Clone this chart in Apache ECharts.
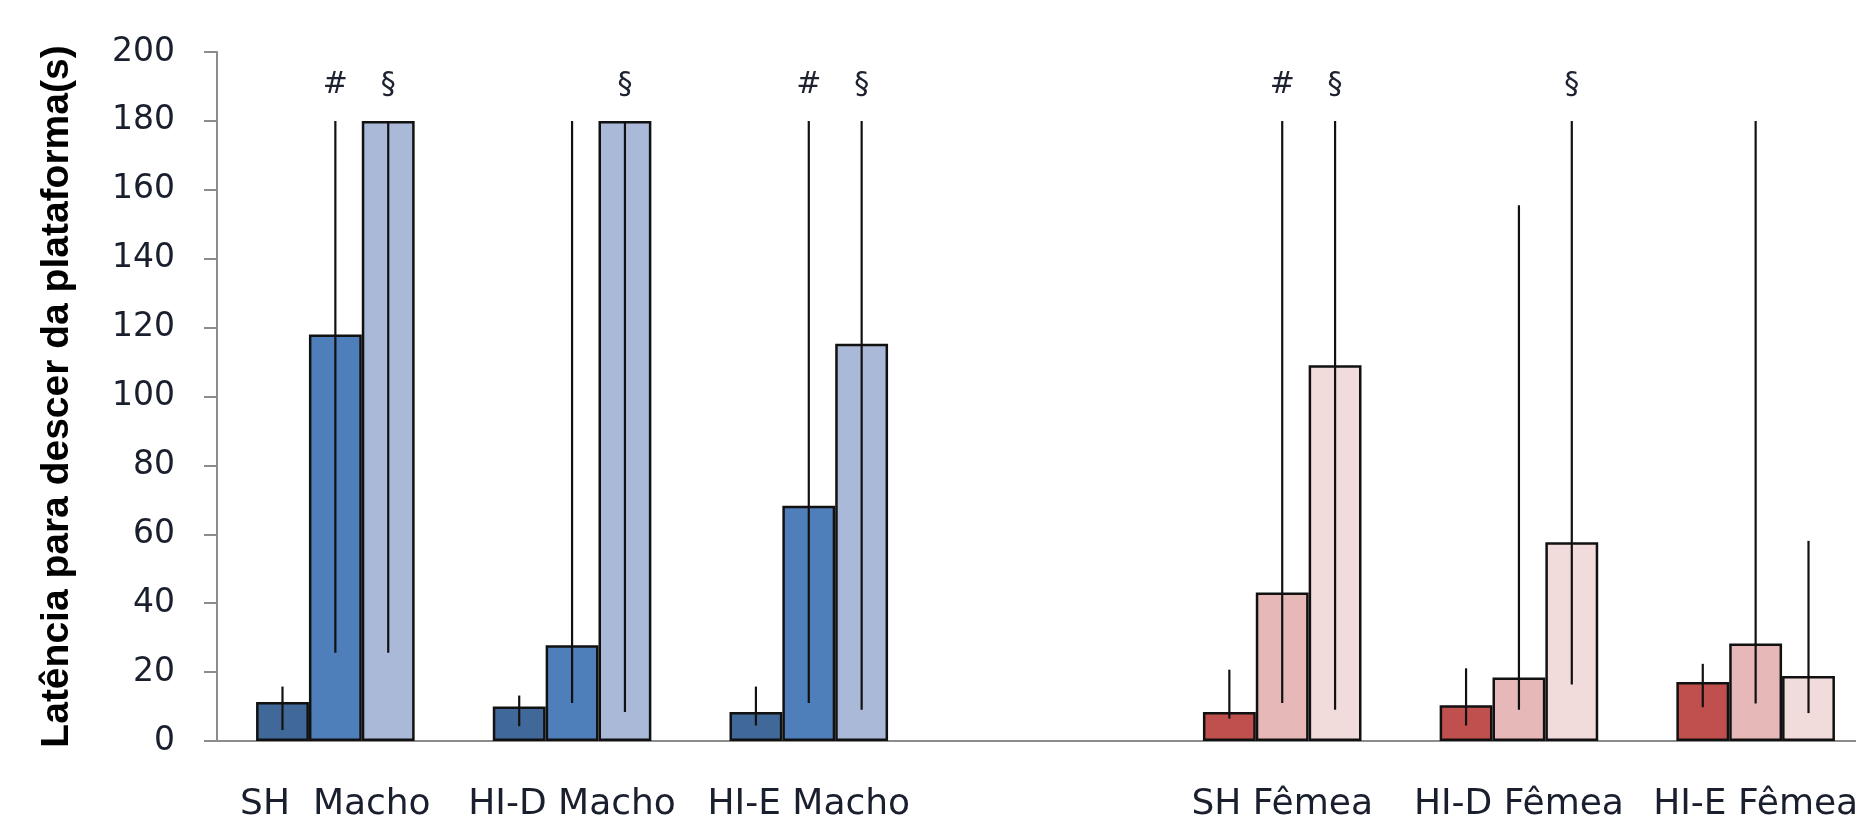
<!DOCTYPE html>
<html>
<head>
<meta charset="utf-8">
<script src="https://cdn.jsdelivr.net/npm/echarts@6/dist/echarts.min.js"></script>
<style>
  html, body { margin: 0; padding: 0; background: #fff; overflow: hidden; }
  #chart { width: 1856px; height: 817px; }
</style>
</head>
<body>
<div id="chart"></div>
<script>
// Groups along the x axis (the blank slot separates males from females)
const categories = ['SH  Macho', 'HI-D Macho', 'HI-E Macho', '', 'SH Fêmea', 'HI-D Fêmea', 'HI-E Fêmea'];
const isFemale = [false, false, false, false, true, true, true];

// Median latency (s) for the three bars of each group, with lower/upper range
const bar1 = [11.3, 10.0, 8.4, null, 8.4, 10.4, 17.1];
const bar1Low = [3.2, 4.3, 4.5, null, 6.5, 4.5, 9.8];
const bar1High = [15.8, 13.2, 15.8, null, 20.7, 21.1, 22.4];

const bar2 = [118, 27.8, 68.3, null, 43.1, 18.4, 28.3];
const bar2Low = [25.6, 11.0, 11.0, null, 11.0, 9.1, 10.9];
const bar2High = [180, 180, 180, null, 180, 155.5, 180];

const bar3 = [180, 180, 115.3, null, 109.1, 57.7, 18.9];
const bar3Low = [25.6, 8.4, 9.1, null, 9.1, 16.4, 8.1];
const bar3High = [180, 180, 180, null, 180, 180, 58.1];

// Significance symbols drawn above the range lines
const sig1 = ['', '', '', '', '', '', ''];
const sig2 = ['#', '', '#', '', '#', '', ''];
const sig3 = ['§', '§', '§', '', '§', '§', ''];

// Y axis ticks
const yTicks = [0, 20, 40, 60, 80, 100, 120, 140, 160, 180, 200];

const maleColors = ['#406898', '#4F7FBB', '#AAB9D7'];
const femaleColors = ['#C0504D', '#E6B8B7', '#F2DCDB'];

const barSets = [
  { values: bar1, low: bar1Low, high: bar1High, sig: sig1 },
  { values: bar2, low: bar2Low, high: bar2High, sig: sig2 },
  { values: bar3, low: bar3Low, high: bar3High, sig: sig3 }
];

const GROUP_FRACTION = 0.67;

const series = [];
barSets.forEach((set, k) => {
  series.push({
    type: 'bar',
    name: 'bar' + (k + 1),
    barWidth: (GROUP_FRACTION * 100 / 3).toFixed(2) + '%',
    barGap: '0%',
    data: set.values.map((v, i) => ({
      value: v,
      itemStyle: {
        color: (isFemale[i] ? femaleColors : maleColors)[k],
        borderColor: '#111',
        borderWidth: 2.5
      }
    })),
    z: 2
  });
});

// Range lines (no caps) and significance marks, centred on each bar
barSets.forEach((set, k) => {
  series.push({
    type: 'custom',
    name: 'range' + (k + 1),
    data: set.low.map((lo, i) => [i, lo, set.high[i]]),
    z: 5,
    renderItem: function (params, api) {
      const idx = api.value(0);
      const lo = api.value(1);
      const hi = api.value(2);
      if (isNaN(lo) || isNaN(hi)) return null;
      const catW = api.size([1, 0])[0];
      const bw = catW * GROUP_FRACTION / 3;
      const pLo = api.coord([idx, lo]);
      const pHi = api.coord([idx, hi]);
      const x = pLo[0] + (k - 1) * bw;
      const children = [{
        type: 'line',
        shape: { x1: x, y1: pLo[1], x2: x, y2: pHi[1] },
        style: { stroke: '#111', lineWidth: 2.2 }
      }];
      const mark = set.sig[idx];
      if (mark) {
        children.push({
          type: 'text',
          style: {
            text: mark,
            x: x,
            y: pHi[1] - 21,
            align: 'center',
            verticalAlign: 'bottom',
            fill: '#1e2230',
            font: '30px "DejaVu Sans"'
          }
        });
      }
      return { type: 'group', children: children };
    }
  });
});

const chart = echarts.init(document.getElementById('chart'));
chart.setOption({
  animation: false,
  backgroundColor: '#fff',
  grid: {
    left: 217, top: 52, width: 1657, height: 689,
    containLabel: false,
    outerBoundsMode: 'none'
  },
  xAxis: {
    type: 'category',
    data: categories,
    axisLine: { lineStyle: { color: '#8c8c8c', width: 2 } },
    axisTick: { show: false },
    axisLabel: {
      interval: 0,
      margin: 46,
      color: '#1a1f2e',
      fontFamily: 'DejaVu Sans',
      fontSize: 36
    }
  },
  yAxis: {
    type: 'value',
    min: yTicks[0],
    max: yTicks[yTicks.length - 1],
    interval: 20,
    name: 'Latência para descer da plataforma(s)',
    nameLocation: 'middle',
    nameGap: 140,
    nameTextStyle: {
      fontFamily: '"Liberation Sans", Arial, sans-serif',
      fontWeight: 'bold',
      fontSize: 39,
      color: '#000'
    },
    splitLine: { show: false },
    axisLine: { show: true, lineStyle: { color: '#8c8c8c', width: 2 } },
    axisTick: { show: true, length: 13, lineStyle: { color: '#8c8c8c', width: 2 } },
    axisLabel: {
      margin: 42,
      color: '#1a1f2e',
      fontFamily: 'DejaVu Sans',
      fontSize: 33
    }
  },
  series: series
});
</script>
</body>
</html>
